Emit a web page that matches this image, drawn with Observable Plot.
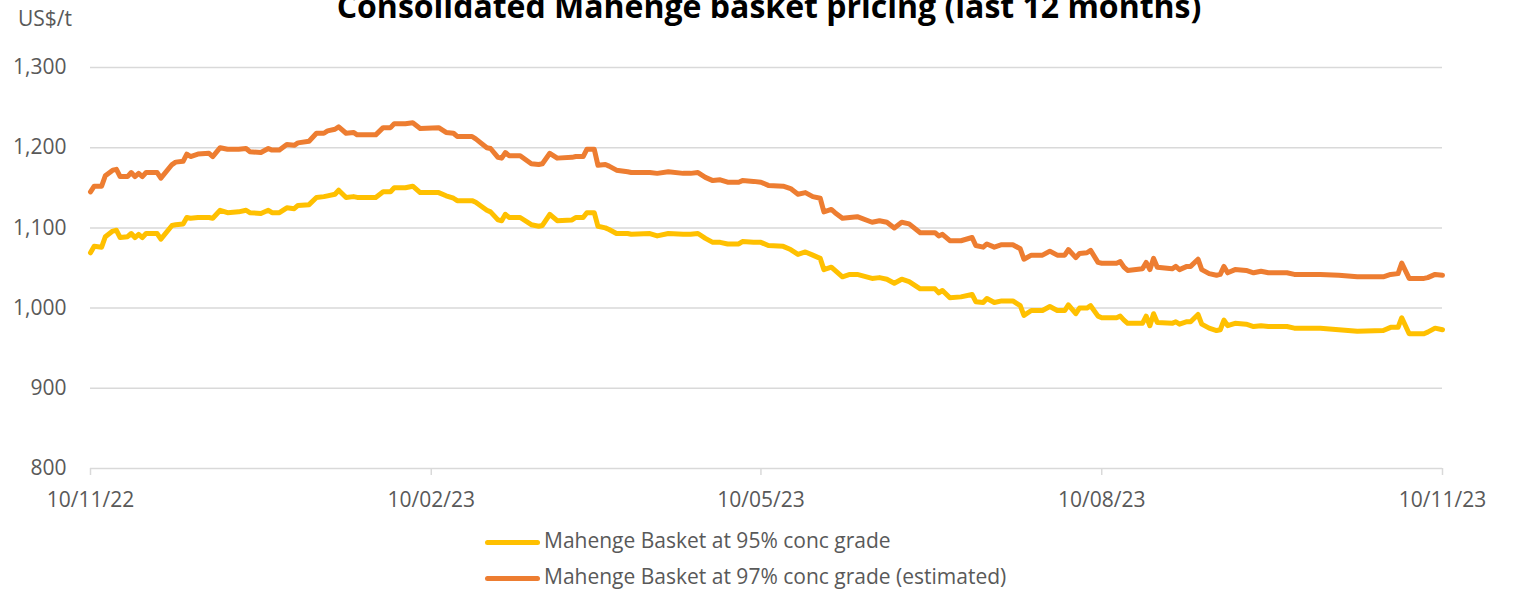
<!DOCTYPE html>
<html>
<head>
<meta charset="utf-8">
<script src="https://cdn.jsdelivr.net/npm/d3@7"></script>
<script src="https://cdn.jsdelivr.net/npm/@observablehq/plot@0.6"></script>
<style>
  html, body { margin: 0; padding: 0; background: #fff; overflow: hidden; }
  #wrap { position: relative; width: 1516px; height: 590px; font-family: "Open Sans", sans-serif; color: #595959; }
  #wrap svg { display: block; }
  .abs { position: absolute; white-space: nowrap; }
  #title { left: 269px; width: 1000px; top: -10.4px; text-align: center; font-size: 32px; line-height: 32px; font-weight: 700; color: #000; }
  #unit { left: 18px; top: 8.4px; font-size: 21px; line-height: 21px; }
  .lg-text { font-size: 21px; line-height: 21px; left: 544px; }
  .lg-swatch { left: 485px; width: 55px; height: 5px; border-radius: 3px; }
</style>
</head>
<body>
<div id="wrap">
  <div id="chart"></div>
  <div id="title" class="abs"></div>
  <div id="unit" class="abs"></div>
  <div id="sw1" class="abs lg-swatch" style="top:539.5px;background:#FFC000"></div>
  <div id="lg1" class="abs lg-text" style="top:530.4px"></div>
  <div id="sw2" class="abs lg-swatch" style="top:575.5px;background:#ED7D31"></div>
  <div id="lg2" class="abs lg-text" style="top:566.4px"></div>
</div>
<script>
const titleText = "Consolidated Mahenge basket pricing (last 12 months)";
const unitLabel = "US$/t";
const seriesNames = ["Mahenge Basket at 95% conc grade", "Mahenge Basket at 97% conc grade (estimated)"];
const seriesColors = ["#FFC000", "#ED7D31"];

const dates = [
  "2022-11-10","2022-11-11","2022-11-13","2022-11-14","2022-11-16","2022-11-17","2022-11-18","2022-11-20","2022-11-21","2022-11-22",
  "2022-11-23","2022-11-24","2022-11-25","2022-11-28","2022-11-29","2022-12-02","2022-12-03","2022-12-05","2022-12-06","2022-12-07",
  "2022-12-09","2022-12-12","2022-12-13","2022-12-15","2022-12-17","2022-12-20","2022-12-22","2022-12-23","2022-12-26","2022-12-28",
  "2022-12-29","2022-12-31","2023-01-02","2023-01-04","2023-01-05","2023-01-08","2023-01-10","2023-01-12","2023-01-13","2023-01-15",
  "2023-01-16","2023-01-18","2023-01-20","2023-01-21","2023-01-26","2023-01-28","2023-01-30","2023-01-31","2023-02-03","2023-02-05",
  "2023-02-07","2023-02-12","2023-02-14","2023-02-16","2023-02-17","2023-02-21","2023-02-22","2023-02-25","2023-02-26","2023-02-28",
  "2023-03-01","2023-03-02","2023-03-03","2023-03-06","2023-03-09","2023-03-11","2023-03-12","2023-03-14","2023-03-16","2023-03-20",
  "2023-03-21","2023-03-23","2023-03-24","2023-03-26","2023-03-27","2023-03-29","2023-03-30","2023-04-01","2023-04-04","2023-04-05",
  "2023-04-10","2023-04-12","2023-04-15","2023-04-19","2023-04-21","2023-04-23","2023-04-25","2023-04-27","2023-04-29","2023-05-01",
  "2023-05-04","2023-05-05","2023-05-08","2023-05-10","2023-05-12","2023-05-16","2023-05-18","2023-05-20","2023-05-22","2023-05-24",
  "2023-05-26","2023-05-27","2023-05-29","2023-05-30","2023-06-01","2023-06-03","2023-06-05","2023-06-09","2023-06-11","2023-06-13",
  "2023-06-15","2023-06-17","2023-06-19","2023-06-22","2023-06-26","2023-06-27","2023-06-28","2023-06-30","2023-07-03","2023-07-06",
  "2023-07-07","2023-07-09","2023-07-10","2023-07-12","2023-07-14","2023-07-17","2023-07-19","2023-07-20","2023-07-22","2023-07-25",
  "2023-07-27","2023-07-29","2023-07-31","2023-08-01","2023-08-03","2023-08-04","2023-08-06","2023-08-07","2023-08-09","2023-08-10",
  "2023-08-14","2023-08-15","2023-08-16","2023-08-17","2023-08-21","2023-08-22","2023-08-23","2023-08-24","2023-08-25","2023-08-29",
  "2023-08-30","2023-08-31","2023-09-02","2023-09-03","2023-09-05","2023-09-06","2023-09-08","2023-09-10","2023-09-11","2023-09-12",
  "2023-09-13","2023-09-15","2023-09-18","2023-09-20","2023-09-22","2023-09-24","2023-09-29","2023-10-01","2023-10-08","2023-10-13",
  "2023-10-18","2023-10-25","2023-10-27","2023-10-29","2023-10-30","2023-11-01","2023-11-05","2023-11-06","2023-11-08","2023-11-10"
];

const basket95 = [
  1069,1077,1076,1089,1096,1097,1088,1089,1093,1088,
  1092,1088,1093,1093,1086,1103,1104,1105,1113,1112,
  1113,1113,1112,1122,1119,1120,1122,1119,1118,1122,
  1119,1119,1125,1124,1128,1129,1138,1139,1140,1142,
  1147,1138,1139,1138,1138,1145,1145,1150,1150,1152,
  1144,1144,1140,1137,1134,1134,1132,1122,1120,1110,
  1109,1117,1113,1113,1104,1102,1103,1117,1109,1110,
  1113,1113,1119,1119,1102,1100,1098,1093,1093,1092,
  1093,1090,1093,1092,1092,1093,1087,1082,1082,1080,
  1080,1083,1082,1082,1078,1077,1073,1067,1070,1066,
  1062,1048,1051,1047,1039,1042,1042,1037,1038,1036,
  1031,1036,1033,1024,1024,1019,1022,1013,1014,1017,
  1008,1007,1012,1007,1009,1009,1003,991,997,997,
  1002,997,997,1004,993,1000,1000,1003,990,988,
  988,990,985,981,981,990,978,993,982,981,
  983,980,983,983,992,980,975,972,973,985,
  978,981,980,977,978,977,977,975,975,973,
  971,972,976,976,988,968,968,970,975,973
];

const basket97 = [
  1145,1152,1152,1165,1172,1173,1164,1164,1169,1164,
  1168,1164,1169,1169,1162,1179,1182,1183,1192,1189,
  1192,1193,1189,1200,1198,1198,1199,1195,1194,1199,
  1197,1197,1204,1203,1206,1208,1218,1218,1221,1223,
  1226,1218,1219,1216,1216,1225,1225,1230,1230,1231,
  1224,1225,1219,1218,1214,1214,1211,1200,1199,1188,
  1187,1194,1190,1190,1180,1179,1180,1193,1187,1188,
  1189,1189,1198,1198,1178,1179,1177,1172,1170,1169,
  1169,1168,1170,1168,1168,1169,1163,1159,1160,1157,
  1157,1159,1158,1157,1153,1152,1149,1142,1144,1139,
  1137,1120,1123,1119,1112,1113,1114,1107,1109,1107,
  1100,1107,1105,1094,1094,1090,1092,1084,1084,1088,
  1078,1076,1080,1076,1079,1079,1074,1061,1066,1066,
  1071,1066,1066,1073,1063,1068,1069,1072,1057,1056,
  1056,1058,1051,1047,1049,1057,1048,1062,1051,1049,
  1052,1048,1052,1052,1061,1048,1043,1041,1042,1052,
  1044,1048,1047,1044,1046,1044,1044,1042,1042,1041,
  1039,1039,1042,1043,1056,1037,1037,1038,1042,1041
];

const yTicks = [800, 900, 1000, 1100, 1200, 1300];
const xTickLabels = ["2022-11-10", "2023-02-10", "2023-05-10", "2023-08-10", "2023-11-10"];

const rows = dates.map((d, i) => ({date: new Date(d), v95: basket95[i], v97: basket97[i]}));
const xTicks = xTickLabels.map(d => new Date(d));

const chart = Plot.plot({
  width: 1516,
  height: 520,
  marginLeft: 90,
  marginRight: 74,
  marginTop: 67,
  marginBottom: 52,
  style: {fontFamily: "'Open Sans', sans-serif", fontSize: "21px", color: "#595959", background: "#fff", overflow: "visible"},
  x: {type: "utc", domain: [xTicks[0], xTicks[xTicks.length - 1]]},
  y: {domain: [yTicks[0], yTicks[yTicks.length - 1]]},
  marks: [
    Plot.gridY(yTicks, {stroke: "#d9d9d9", strokeOpacity: 1, strokeWidth: 1.5}),
    Plot.axisY(yTicks, {tickSize: 0, tickPadding: 24, tickFormat: d3.format(","), fill: "#595959", fontSize: 21, label: null}),
    Plot.axisX(xTicks, {tickSize: 7, tickPadding: 17, tickFormat: d3.utcFormat("%d/%m/%y"), stroke: "#d9d9d9", strokeOpacity: 1, strokeWidth: 1.5, fill: "#595959", fontSize: 21, label: null}),
    Plot.lineY(rows, {x: "date", y: "v95", stroke: seriesColors[0], strokeWidth: 5, strokeLinejoin: "round", strokeLinecap: "round"}),
    Plot.lineY(rows, {x: "date", y: "v97", stroke: seriesColors[1], strokeWidth: 5, strokeLinejoin: "round", strokeLinecap: "round"})
  ]
});
document.getElementById("chart").appendChild(chart);
document.getElementById("title").textContent = titleText;
document.getElementById("unit").textContent = unitLabel;
document.getElementById("lg1").textContent = seriesNames[0];
document.getElementById("lg2").textContent = seriesNames[1];
</script>
</body>
</html>
